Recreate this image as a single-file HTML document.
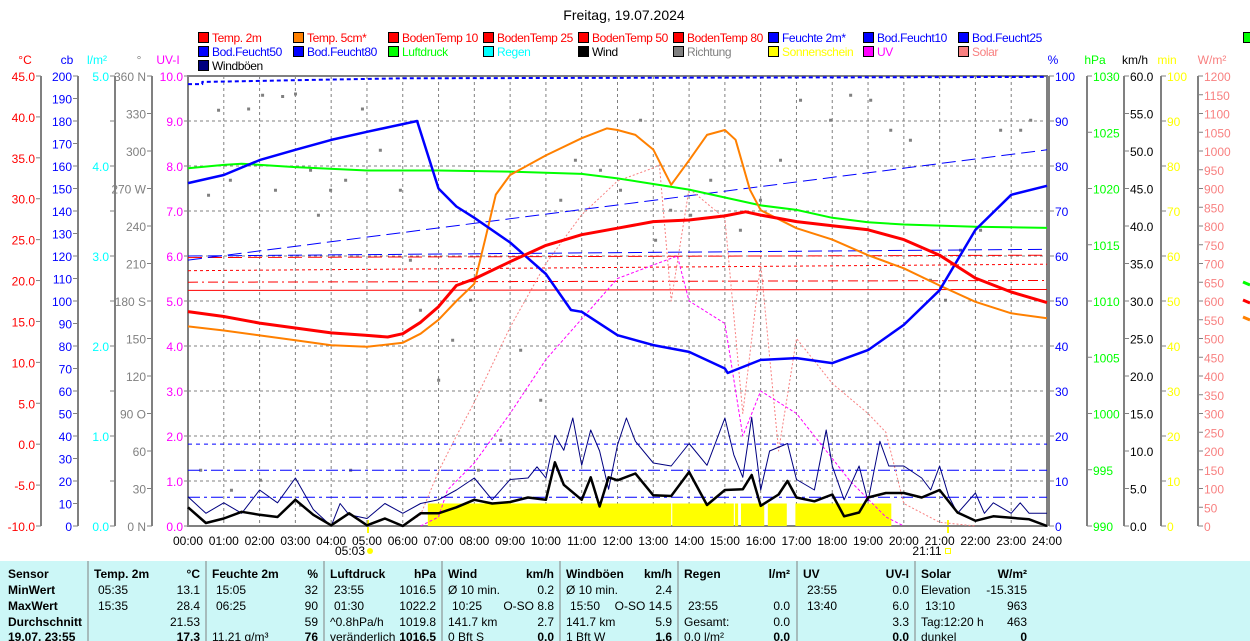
<!DOCTYPE html>
<html><head><meta charset="utf-8">
<style>
html,body{margin:0;padding:0;background:#fff;}
svg{display:block;font-family:"Liberation Sans",sans-serif;}
</style></head>
<body>
<svg id="chart" width="1250" height="641" viewBox="0 0 1250 641" xmlns="http://www.w3.org/2000/svg">
<rect x="0" y="0" width="1250" height="641" fill="#fff"/>
<text x="624" y="20" font-size="14" text-anchor="middle">Freitag, 19.07.2024</text>
<g id="legend"></g>
<g id="axes"></g>
<g id="grid"></g>
<g id="series"></g>
<g id="table"></g>
</svg>
<script>
// ---- data ----
var t2Hours=[0,1,2,3,4,5,5.58,6,6.5,7,7.5,8,9,10,11,12,13,14,15,15.58,16,17,18,19,20,21,22,23,24];
var t2Vals=[16.2,15.6,14.8,14.2,13.6,13.3,13.1,13.5,14.9,16.8,19.4,20.2,22.3,24.3,25.6,26.4,27.2,27.4,27.9,28.4,28.0,27.2,26.7,26.2,25.0,23.1,20.3,18.6,17.3];
var t5Hours=[0,1,2,3,4,5,6,6.5,7,7.5,8,8.3,8.6,9,10,11,11.7,12,12.5,13,13.5,14,14.5,15,15.3,15.7,16,17,18,19,20,21,22,23,24];
var t5Vals=[14.4,13.9,13.3,12.7,12.1,11.9,12.4,13.5,15.2,17.5,19.6,25.0,30.5,32.9,35.3,37.4,38.6,38.4,37.8,36.0,31.7,34.7,37.8,38.4,37.2,31.1,28.6,26.4,25.0,23.1,21.5,19.4,17.4,16.0,15.4];
var humHours=[0,1,2,3,4,5,6,6.4,7,7.5,8,9,10,10.7,11,12,13,14,15,15.08,16,17,18,19,20,21,22,23,24];
var humVals=[76.2,78,81.3,83.6,85.8,87.6,89.3,90,75,71,68.5,63,56,48,47.6,42.4,40.2,38.7,35,34,36.9,37.3,36.2,39.1,44.7,52.4,65.8,73.6,75.6];
var presHours=[0,1,1.5,3,5,7,9,11,12,13,14,15,16,17,18,19,20,21,22,24];
var presVals=[1021.8,1022.1,1022.2,1021.9,1021.6,1021.6,1021.5,1021.3,1020.9,1020.4,1019.9,1019.2,1018.5,1018.1,1017.4,1017.0,1016.8,1016.7,1016.6,1016.5];
var windHours=[0,0.5,1,1.5,2,2.5,3,3.5,4,4.5,5,5.5,6,6.5,7,7.5,8,8.5,9,9.5,10,10.25,10.5,11,11.25,11.5,11.75,12,12.5,13,13.5,14,14.5,15,15.5,15.75,16,16.5,16.75,17,17.5,18,18.33,18.75,19,19.5,20,20.5,21,21.5,22,22.5,23,23.5,24];
var windVals=[2.5,0.4,1,1.9,1.5,1.2,3.5,1.5,0.1,1.7,0.1,1,0,1.7,1.7,2.5,3.5,3,3.2,3.8,3.5,8.5,5.5,3.5,6.5,2.6,6.5,6.1,7,4.1,4,7.2,2.8,4.8,4.9,6.8,2.7,4.2,6,3.8,3.3,4.2,1.3,1.8,3.8,4.4,4.4,3.8,4.8,1.8,0.7,1.3,1.1,0.9,0];
var gustHours=[0,0.5,1,1.5,2,2.5,3,3.5,4,4.25,4.5,5,5.5,6,6.5,7,7.5,8,8.5,9,9.5,9.75,10,10.25,10.5,10.75,11,11.25,11.5,11.75,12,12.25,12.5,13,13.5,14,14.5,15,15.25,15.5,15.75,16,16.25,16.75,17,17.5,17.83,18,18.33,18.75,19,19.33,19.58,20,20.5,20.75,21,21.25,21.5,22,22.25,22.5,23,23.25,23.5,24];
var gustVals=[3.9,1.7,3.1,1.7,4.8,3.1,6.4,2.2,0,3,1.5,1,3,1.7,3,3.5,4.8,6.4,3.5,6.2,6.4,7.9,6.4,12.1,10.1,14.4,8.1,12.8,10,4.9,10.8,14.4,11.3,8.4,8,11,8.1,14.4,9.5,6.5,14.5,4.8,10,11,6.2,4.8,12.8,8,3.5,8,3.3,11.3,8,8,6.4,4.8,8,4,1.7,4.4,1.7,3.1,1.7,3.1,1.7,1.7];
var solarHours=[6,6.5,7,7.5,8,9,10,11,12,13,13.17,13.5,14,15,15.5,16,16.5,17,18,19,19.5,20,21,22];
var solarVals=[0,30,146,240,330,530,700,830,920,955,963,600,900,820,300,700,200,500,380,300,250,60,10,0];
var uvHours=[6.5,7,7.25,8,9,10,11,12,13,13.67,14,15,15.5,16,17,17.5,18,18.5,19,19.5,20];
var uvVals=[0,0.2,0.8,1.4,2.5,3.7,4.6,5.5,5.8,6.0,5.0,4.5,2.0,3.0,2.5,2.0,1.5,1.0,0.6,0.2,0];
var sunStart=[6.7,13.53,15.28,15.45,16.2,16.97];
var sunEnd=[13.5,15.25,15.37,16.1,16.73,19.65];
var sunVals=[5,5,5,5,5,5];
var dirHours=[0.56,0.84,1.17,1.68,2.07,2.43,2.63,2.99,3.41,3.63,3.97,4.39,4.86,5.36,5.92,6.2,6.48,6.99,7.38,7.88,8.1,8.72,9.28,9.84,10.4,10.81,11.51,12.07,12.63,13.05,13.47,14.03,14.59,15.42,15.98,16.54,17.1,17.94,18.5,19.06,19.62,20.17,20.73,21.15,21.57,22.13,22.69,23.25,23.53,0.34,1.2,2.01,3.13,4.53];
var dirVals=[265,333,277,334,345,269,344,346,285,249,269,277,334,301,269,213,173,117,149,181,45,69,141,101,261,293,285,269,325,229,253,249,277,237,261,293,341,325,345,341,317,309,197,181,221,237,317,317,325,45,29,37,17,45];
var bodenTempNames=['bodentemp-10','bodentemp-25','bodentemp-50','bodentemp-80'];
var bodenTempStart=[22.8,21.2,19.8,18.8];
var bodenTempEnd=[23.1,22.0,20.0,18.9];
var bodFeuchtNames=['bod-feucht-10','bod-feucht-25','bod-feucht-50','bod-feucht-80','bod-feucht-extra'];
var bodFeuchtStart=[59.1,60.0,18.2,12.4,6.4];
var bodFeuchtEnd=[83.6,61.5,18.2,12.4,6.4];
var hourLabels=['00:00','01:00','02:00','03:00','04:00','05:00','06:00','07:00','08:00','09:00','10:00','11:00','12:00','13:00','14:00','15:00','16:00','17:00','18:00','19:00','20:00','21:00','22:00','23:00','24:00'];

// ---- geometry ----
var X0=188,X1=1047,Y0=76,Y1=526;
function xH(h){return X0+(X1-X0)*h/24;}
function yUV(v){return Y1-(Y1-Y0)*v/10;}
function yT(t){return Y1-(Y1-Y0)*(t+10)/55;}
function yHum(p){return Y1-(Y1-Y0)*p/100;}
function yP(p){return Y1-(Y1-Y0)*(p-990)/40;}
function yW(w){return Y1-(Y1-Y0)*w/60;}
function yS(s){return Y1-(Y1-Y0)*s/1200;}
function yMin(m){return Y1-(Y1-Y0)*m/100;}
function yDeg(d){return Y1-(Y1-Y0)*d/360;}
var NS='http://www.w3.org/2000/svg';
function mk(tag,attrs,parent){var e=document.createElementNS(NS,tag);for(var k in attrs)e.setAttribute(k,attrs[k]);parent.appendChild(e);return e;}
function txt(parent,x,y,s,fill,anchor,size,weight){var e=mk('text',{x:x,y:y,fill:fill,'text-anchor':anchor||'start','font-size':size||12},parent);if(weight)e.setAttribute('font-weight',weight);e.textContent=s;return e;}

// ---- legend ----
var lg=document.getElementById('legend');
var legItems=[
 ['Temp. 2m','#f00','#f00',198,37],['Temp. 5cm*','#ff8000','#f00',293,37],['BodenTemp 10','#f00','#f00',388,37],['BodenTemp 25','#f00','#f00',483,37],['BodenTemp 50','#f00','#f00',578,37],['BodenTemp 80','#f00','#f00',673,37],['Feuchte 2m*','#00f','#00f',768,37],['Bod.Feucht10','#00f','#00f',863,37],['Bod.Feucht25','#00f','#00f',958,37],['','#0f0','#0f0',1243,37],
 ['Bod.Feucht50','#00f','#00f',198,51],['Bod.Feucht80','#00f','#00f',293,51],['Luftdruck','#0f0','#0f0',388,51],['Regen','#0ff','#0ff',483,51],['Wind','#000','#000',578,51],['Richtung','#808080','#808080',673,51],['Sonnenschein','#ff0','#ff0',768,51],['UV','#f0f','#f0f',863,51],['Solar','#f88080','#f88080',958,51],
 ['Windböen','#000080','#000',198,65]];
legItems.forEach(function(it){
  var g=mk('g',{},lg);
  
  
  mk('rect',{x:it[3]+0.5,y:it[4]-4.5,width:10,height:10,fill:it[1],stroke:'#000','stroke-width':1},g);
  if(it[0]){var t=txt(g,it[3]+14,it[4]+5,it[0],it[2],'start',12);t.setAttribute('letter-spacing','-0.4');}
});

// ---- grid ----
var gr=document.getElementById('grid');
for(var i=1;i<24;i++){mk('line',{x1:xH(i),x2:xH(i),y1:Y0,y2:Y1,stroke:'#808080','stroke-dasharray':'3,3'},gr);}
for(var j=1;j<10;j++){mk('line',{x1:X0,x2:X1,y1:yUV(j),y2:yUV(j),stroke:'#808080','stroke-dasharray':'3,3'},gr);}
var border=mk('rect',{x:X0,y:Y0,width:X1-X0,height:Y1-Y0,fill:'none',stroke:'#808080','stroke-width':2},gr);



// ---- axes ----
var ax=document.getElementById('axes');
function vAxis(name,lineX,unit,unitX,color,n,labelFn,side,lineColor){
  var g=mk('g',{},ax);
  
  
  mk('line',{x1:lineX,x2:lineX,y1:Y0,y2:Y1,stroke:lineColor||'#808080','stroke-width':2},g);
  txt(g,unitX,64,unit,color,'middle',12);
  for(var k=0;k<=n;k++){
    var y=Y0+(Y1-Y0)*k/n;
    if(side==='L'){mk('line',{x1:lineX-5,x2:lineX,y1:y,y2:y,stroke:'#808080'},g);var lab=labelFn(k);if(lab!==null)txt(g,lineX-6,y+5,lab,color,'end',12);}
    else {mk('line',{x1:lineX,x2:lineX+5,y1:y,y2:y,stroke:'#808080'},g);var lab2=labelFn(k);if(lab2!==null)txt(g,lineX+6,y+5,lab2,color,'start',12);}
  }
}
vAxis('celsius-axis',41,'°C',25,'#f00',11,function(k){return (45-5*k).toFixed(1);},'L');
vAxis('cb-axis',78,'cb',67,'#00f',20,function(k){return String(200-10*k);},'L');
vAxis('rain-axis',115,'l/m²',97,'#0ff',10,function(k){return k%2==0?(5-k/2).toFixed(1):null;},'L');
var dirLab=['360 N','330','300','270 W','240','210','180 S','150','120','90 O','60','30','0 N'];
vAxis('direction-axis',152,'°',139,'#808080',12,function(k){return dirLab[k];},'L');
vAxis('uv-axis',189,'UV-I',168,'#f0f',10,function(k){return (10-k).toFixed(1);},'L','none');
vAxis('humidity-axis',1049,'%',1053,'#00f',10,function(k){return String(100-10*k);},'R','#808080');
vAxis('pressure-axis',1087,'hPa',1095,'#0f0',8,function(k){return String(1030-5*k);},'R');
vAxis('wind-axis',1124,'km/h',1135,'#000',12,function(k){return (60-5*k).toFixed(1);},'R');
vAxis('sunshine-axis',1161,'min',1167,'#ff0',10,function(k){return String(100-10*k);},'R');
vAxis('solar-axis',1198,'W/m²',1212,'#f88080',24,function(k){return String(1200-50*k);},'R');

// x-axis labels
var xl=mk('g',{},ax);


hourLabels.forEach(function(s,i){txt(xl,xH(i),545,s,'#000','middle',12);});
txt(xl,350,555,'05:03','#000','middle',12);
mk('circle',{cx:370,cy:551,r:3,fill:'#ff0'},xl);
mk('line',{x1:368,x2:368,y1:520,y2:533,stroke:'#ff0','stroke-width':2},xl);
txt(xl,927,555,'21:11','#000','middle',12);
mk('rect',{x:945.5,y:548.5,width:5,height:5,fill:'none',stroke:'#ff0'},xl);
mk('line',{x1:948,x2:948,y1:520,y2:533,stroke:'#ff0','stroke-width':2},xl);

// ---- series ----
var sr=document.getElementById('series');
function poly(name,hours,vals,yf,color,w,dash){
  var pts=hours.map(function(h,i){return xH(h).toFixed(1)+','+yf(vals[i]).toFixed(1);}).join(' ');
  var p=mk('polyline',{points:pts,fill:'none',stroke:color,'stroke-width':w,'stroke-linejoin':'round'},sr);
  if(dash)p.setAttribute('stroke-dasharray',dash);
  
  
  return p;
}
// sunshine bars
sunStart.forEach(function(s,i){
  var r=mk('rect',{x:xH(s),y:yMin(sunVals[i]),width:xH(sunEnd[i])-xH(s),height:Y1-yMin(sunVals[i]),fill:'#ff0'},sr);
  
  
});
// direction dots
dirHours.forEach(function(h,i){
  var c=mk('rect',{x:xH(h)-1,y:yDeg(dirVals[i])-1,width:3,height:3,fill:'#808080'},sr);
  
  
});
var btDash=['14,6','3,3','10,4,2,4','none'];
bodenTempNames.forEach(function(n,i){poly(n,[0,24],[bodenTempStart[i],bodenTempEnd[i]],yT,'#f00',1,btDash[i]==='none'?null:btDash[i]);});
var bfDash=['14,6','14,6','4,4','12,4,3,4','12,4,3,4'];
bodFeuchtNames.forEach(function(n,i){poly(n,[0,24],[bodFeuchtStart[i],bodFeuchtEnd[i]],yHum,'#00f',1,bfDash[i]);});
poly('humidity-top-line',[0,0.4,0.4,6,24],[98.2,98.2,98.7,99.5,99.8],yHum,'#00f',2,'4,3');
poly('solar-line',solarHours,solarVals,yS,'#f88080',1,'2,2');
poly('uv-line',uvHours,uvVals,yUV,'#f0f',1,'3,2');
poly('pressure-line',presHours,presVals,yP,'#0f0',2);
poly('gust-line',gustHours,gustVals,yW,'#000080',1);
poly('wind-line',windHours,windVals,yW,'#000',2.5);
poly('temp-5cm-line',t5Hours,t5Vals,yT,'#ff8000',2);
poly('humidity-line',humHours,humVals,yHum,'#00f',2.5);
poly('temp-2m-line',t2Hours,t2Vals,yT,'#f00',3);
[[282,'#0f0'],[300,'#f00'],[317,'#ff8000']].forEach(function(m){mk('line',{x1:1243,x2:1250,y1:m[0],y2:m[0]+3,stroke:m[1],'stroke-width':3},sr);});

// ---- table ----
var tb=document.getElementById('table');
mk('rect',{x:0,y:561,width:1250,height:80,fill:'#ccf7f7'},tb);
var colX=[0,88,206,324,442,560,678,797,915];
for(var c=1;c<colX.length;c++)mk('line',{x1:colX[c],x2:colX[c],y1:561,y2:641,stroke:'#808080'},tb);
var rowsY=[578,594,610,626,641];
var firstCol=['Sensor','MinWert','MaxWert','Durchschnitt','19.07. 23:55'];
firstCol.forEach(function(s,r){txt(tb,8,rowsY[r],s,'#000','start',12,'bold');});
var cols=[
 [['Temp. 2m','°C'],['05:35','13.1'],['15:35','28.4'],['','21.53'],['','17.3']],
 [['Feuchte 2m','%'],['15:05','32'],['06:25','90'],['','59'],['11.21 g/m³','76']],
 [['Luftdruck','hPa'],['23:55','1016.5'],['01:30','1022.2'],['^0.8hPa/h','1019.8'],['veränderlich','1016.5']],
 [['Wind','km/h'],['Ø 10 min.','0.2'],['10:25','O-SO 8.8'],['141.7 km','2.7'],['0 Bft S','0.0']],
 [['Windböen','km/h'],['Ø 10 min.','2.4'],['15:50','O-SO 14.5'],['141.7 km','5.9'],['1 Bft W','1.6']],
 [['Regen','l/m²'],['',''],['23:55','0.0'],['Gesamt:','0.0'],['0.0 l/m²','0.0']],
 [['UV','UV-I'],['23:55','0.0'],['13:40','6.0'],['','3.3'],['','0.0']],
 [['Solar','W/m²'],['Elevation','-15.315'],['13:10','963'],['Tag:12:20 h','463'],['dunkel','0']]
];
cols.forEach(function(col,ci){
  var x=colX[ci+1];
  col.forEach(function(cell,r){
    var hdr=r===0, last=r===4;
    var indent=(r===1||r===2)&&/^\d\d:\d\d$/.test(cell[0])?10:6;
    txt(tb,x+indent,rowsY[r],cell[0],'#000','start',12,hdr?'bold':null);
    txt(tb,x+112,rowsY[r],cell[1],'#000','end',12,(hdr||last)?'bold':null);
  });
});
</script>
</body></html>
